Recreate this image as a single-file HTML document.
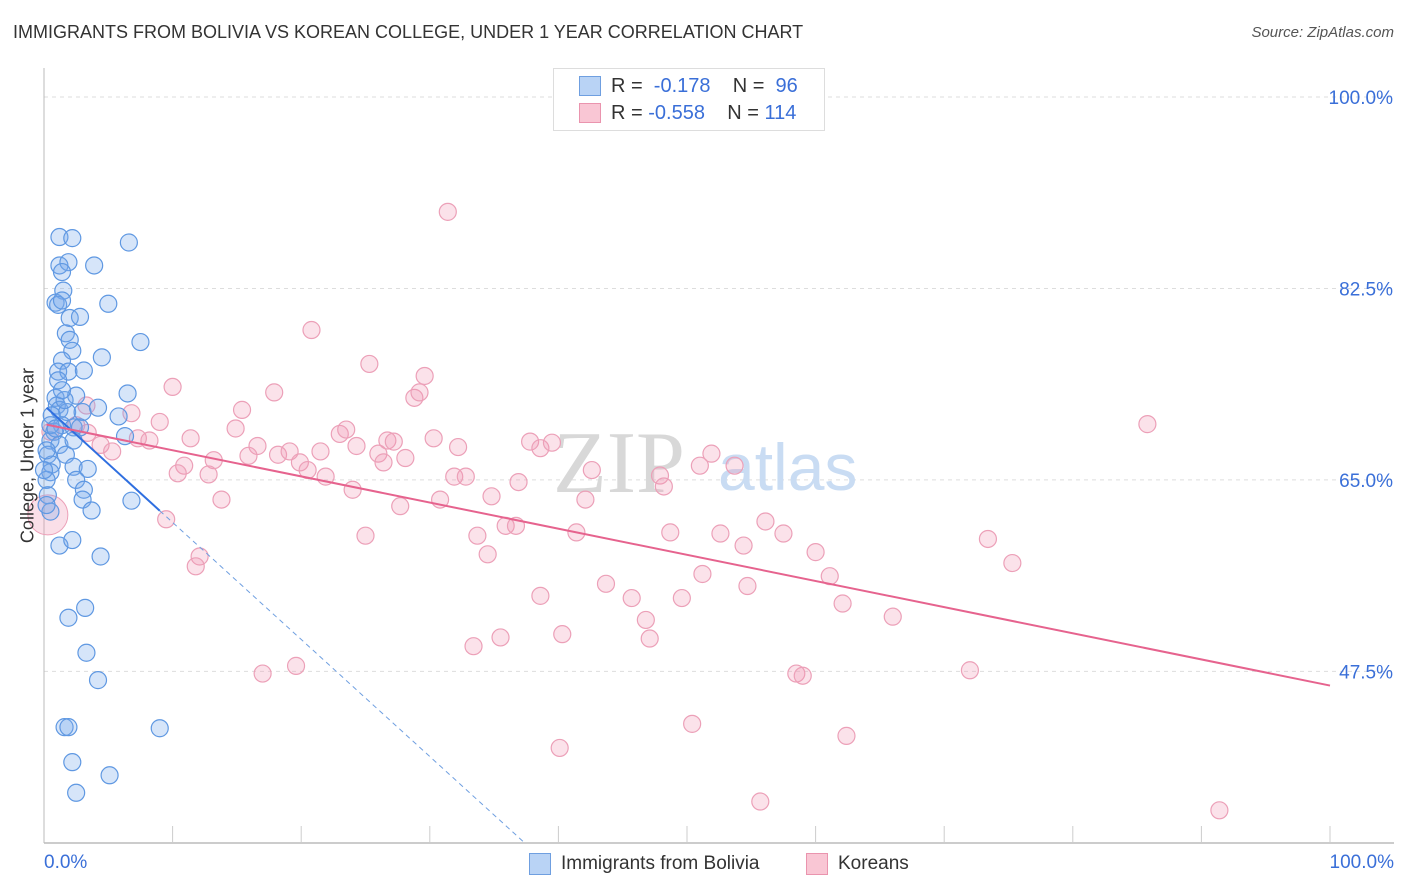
<!DOCTYPE html>
<html><head><meta charset="utf-8"><style>
body{margin:0;background:#fff;font-family:"Liberation Sans",sans-serif;}
#wrap{position:relative;width:1406px;height:892px;overflow:hidden;}
.t{position:absolute;white-space:nowrap;}
</style></head><body>
<div id="wrap">
<div class="t" style="left:13px;top:22px;font-size:18px;color:#333;">IMMIGRANTS FROM BOLIVIA VS KOREAN COLLEGE, UNDER 1 YEAR CORRELATION CHART</div>
<div class="t" style="right:12px;top:24px;font-size:15px;color:#555;font-style:italic;">Source: ZipAtlas.com</div>
<svg id="plot" width="1406" height="892" style="position:absolute;left:0;top:0"></svg>
<div class="t" style="left:553px;top:68px;width:270px;height:61px;border:1px solid #ddd;background:#fff;">
 <div style="position:absolute;left:25px;top:7px;width:20px;height:18px;background:#b9d3f5;border:1px solid #6f9fe0;"></div>
 <div class="t" style="left:57px;top:6px;font-size:20px;color:#333;">R = &nbsp;<span style="color:#3a6fd8">-0.178</span>&nbsp;&nbsp;&nbsp; N = &nbsp;<span style="color:#3a6fd8">96</span></div>
 <div style="position:absolute;left:25px;top:34px;width:20px;height:18px;background:#f9c6d4;border:1px solid #ea94ae;"></div>
 <div class="t" style="left:57px;top:33px;font-size:20px;color:#333;">R = <span style="color:#3a6fd8">-0.558</span>&nbsp;&nbsp;&nbsp; N = <span style="color:#3a6fd8">114</span></div>
</div>
<div class="t" style="left:529px;top:853px;width:20px;height:20px;background:#b9d3f5;border:1px solid #6f9fe0;"></div>
<div class="t" style="left:561px;top:853px;font-size:19px;color:#333;">Immigrants from Bolivia</div>
<div class="t" style="left:806px;top:853px;width:20px;height:20px;background:#f9c6d4;border:1px solid #ea94ae;"></div>
<div class="t" style="left:838px;top:853px;font-size:19px;color:#333;">Koreans</div>
<div class="t" style="left:44px;top:852px;font-size:19px;color:#3a6fd8;">0.0%</div>
<div class="t" style="right:12px;top:852px;font-size:19px;color:#3a6fd8;">100.0%</div>
<div class="t" style="left:-62px;top:445px;font-size:18px;color:#333;transform:rotate(-90deg);width:180px;text-align:center;">College, Under 1 year</div>
</div>
<script>
const yTicks=[100,82.5,65,47.5];
const yTickLabels=["100.0%","82.5%","65.0%","47.5%"];
const blueX=[1.2,2.2,6.6,1.2,1.9,3.9,1.4,1.5,0.9,1.1,1.4,5.0,2.0,2.8,1.7,2.0,7.5,2.2,4.5,1.4,1.1,1.9,3.1,6.5,2.5,0.9,1.0,1.2,1.8,3.0,4.2,0.6,5.8,1.4,2.3,2.8,6.3,0.8,0.5,1.2,1.7,0.3,0.6,2.3,3.4,0.5,0.2,2.5,3.1,3.0,6.8,3.7,0.3,0.5,1.2,2.2,4.4,3.2,1.9,3.3,4.2,1.6,1.9,9.0,2.2,5.1,2.5,0.2,0.0,0.5,0.9,1.6,1.1,2.3,0.2,1.4];
const blueY=[87.2,87.1,86.7,84.6,84.9,84.6,84.0,82.3,81.2,81.0,81.4,81.1,79.8,79.9,78.4,77.8,77.6,76.8,76.2,75.9,74.9,74.9,75.0,72.9,72.7,72.5,71.8,71.4,71.2,71.2,71.6,70.9,70.8,70.0,69.8,69.8,69.0,69.4,68.6,68.2,67.3,67.3,66.4,66.2,66.0,65.7,65.0,65.0,64.1,63.2,63.1,62.2,63.6,62.1,59.0,59.5,58.0,53.3,52.4,49.2,46.7,42.4,42.4,42.3,39.2,38.0,36.4,67.7,65.9,70.0,69.7,72.3,74.1,68.6,62.7,73.2];
const pinkX=[31.4,20.8,25.3,29.6,10.0,17.9,28.8,15.4,6.8,9.0,3.3,2.5,3.4,4.4,5.3,7.3,8.2,11.4,14.9,16.6,18.2,15.9,13.2,10.9,10.4,12.8,13.8,9.5,12.1,11.8,19.1,19.9,20.5,21.5,21.9,23.0,23.5,24.3,24.0,25.0,26.0,26.4,26.7,27.2,28.1,29.2,30.3,30.8,27.7,32.2,31.9,32.8,33.7,34.5,34.8,35.9,36.7,36.9,37.8,38.6,39.5,38.6,40.3,35.5,33.4,42.6,42.1,41.4,43.7,45.7,46.8,47.1,47.9,48.2,48.7,49.6,51.0,51.2,51.9,52.6,53.7,54.4,54.7,56.1,57.5,58.5,59.0,60.0,61.1,62.1,62.4,66.0,72.0,73.4,75.3,85.8,91.4,55.7,50.4,40.1,17.0,19.6,0.5];
const pinkY=[89.5,78.7,75.6,74.5,73.5,73.0,72.5,71.4,71.1,70.3,71.8,70.0,69.3,68.2,67.6,68.8,68.6,68.8,69.7,68.1,67.3,67.2,66.8,66.3,65.6,65.5,63.2,61.4,58.0,57.1,67.6,66.6,65.9,67.6,65.3,69.2,69.6,68.1,64.1,59.9,67.4,66.6,68.6,68.5,67.0,73.0,68.8,63.2,62.6,68.0,65.3,65.3,59.9,58.2,63.5,60.8,60.8,64.8,68.5,67.9,68.4,54.4,50.9,50.6,49.8,65.9,63.2,60.2,55.5,54.2,52.2,50.5,65.4,64.4,60.2,54.2,66.3,56.4,67.4,60.1,66.3,59.0,55.3,61.2,60.1,47.3,47.1,58.4,56.2,53.7,41.6,52.5,47.6,59.6,57.4,70.1,34.8,35.6,42.7,40.5,47.3,48.0,69.4];
const bigPink=[0.3,61.8];
const blueLine=[0.2,71.6,-1.07];
const pinkLine=[70.1,46.2];
const yMin=31.8;
const X=v=>44+v*12.86;
const Y=v=>97+(100-v)*10.94;
const NS="http://www.w3.org/2000/svg";
const svg=document.getElementById('plot');
function mk(t,a){const e=document.createElementNS(NS,t);for(const k in a)e.setAttribute(k,a[k]);svg.appendChild(e);return e;}
yTicks.forEach((t,i)=>{
 const g=mk('line',{x1:44,x2:1394,y1:Y(t),y2:Y(t),stroke:'#ddd','stroke-dasharray':'4,4'});
 
 
 const l=mk('text',{x:1393,y:Y(t)+7,'text-anchor':'end','font-size':19,fill:'#3a6fd8','font-family':'Liberation Sans, sans-serif'});
 l.textContent=yTickLabels[i];
 
 
});
const wm1=mk('text',{x:553,y:492,'font-size':88,fill:'#d8d8d8','font-family':'Liberation Serif, serif'});wm1.textContent='ZIP';


const wm2=mk('text',{x:718,y:490,'font-size':66,fill:'#c9dcf3','font-family':'Liberation Sans, sans-serif'});wm2.textContent='atlas';


const ax=mk('line',{x1:44,x2:44,y1:68,y2:843,stroke:'#bbb'});


const bx=mk('line',{x1:44,x2:1394,y1:843,y2:843,stroke:'#bbb','stroke-width':1.5});


for(let i=1;i<=10;i++){const tk=mk('line',{x1:X(i*10),x2:X(i*10),y1:826,y2:843,stroke:'#ccc'});
 
 }
const bp=mk('circle',{cx:X(bigPink[0]),cy:Y(bigPink[1]),r:20,fill:'rgba(240,150,180,0.3)',stroke:'#eca0b8'});


pinkX.forEach((x,i)=>{const c=mk('circle',{cx:X(x),cy:Y(pinkY[i]),r:8.5,fill:'rgba(240,150,180,0.28)',stroke:'#eca0b8','stroke-width':1.2});
 
 });
blueX.forEach((x,i)=>{const c=mk('circle',{cx:X(x),cy:Y(blueY[i]),r:8.5,fill:'rgba(120,170,235,0.3)',stroke:'#5f98e2','stroke-width':1.2});
 
 });
const bl=v=>blueLine[1]+blueLine[2]*(v-blueLine[0]);
const bxEnd=blueLine[0]+(yMin-blueLine[1])/blueLine[2];
const l1=mk('line',{x1:X(blueLine[0]),y1:Y(blueLine[1]),x2:X(9),y2:Y(bl(9)),stroke:'#2f6fe0','stroke-width':2});


const l2=mk('line',{x1:X(9),y1:Y(bl(9)),x2:X(bxEnd),y2:Y(yMin),stroke:'#6f9fe0','stroke-width':1,'stroke-dasharray':'5,4'});


const l3=mk('line',{x1:X(0.2),y1:Y(pinkLine[0]+(pinkLine[1]-pinkLine[0])*0.002),x2:X(100),y2:Y(pinkLine[1]),stroke:'#e6638e','stroke-width':2});


</script>
</body></html>
